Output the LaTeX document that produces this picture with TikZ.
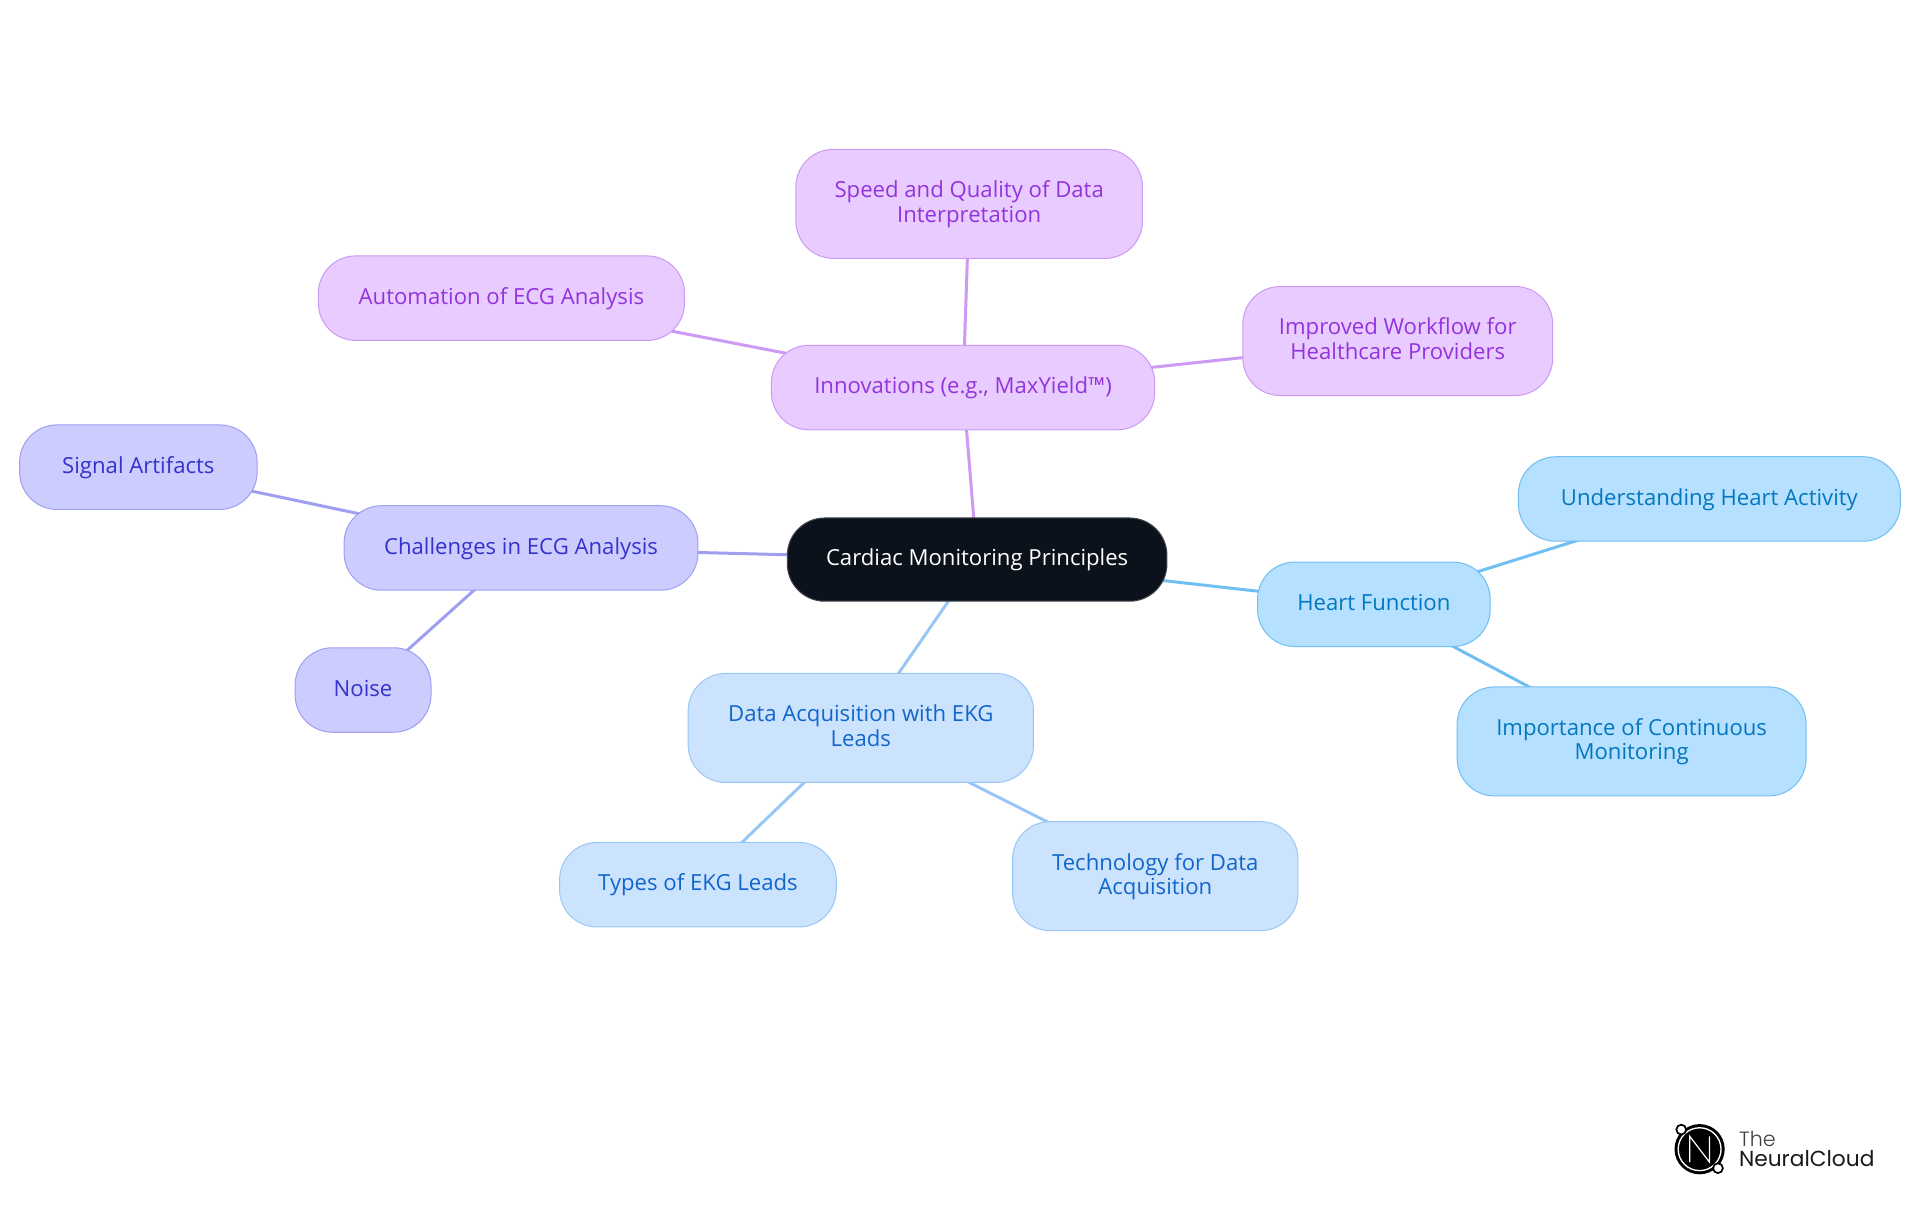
\documentclass[tikz,border=0pt]{standalone}
\usepackage{fontspec}
\setmainfont{Open Sans}
\newfontfamily\logofont{Poppins}
\newfontfamily\logolight{Poppins Light}
\usetikzlibrary{backgrounds}
\newcommand\st{\rule[-4.6pt]{0pt}{18.4pt}}
\definecolor{rootfill}{HTML}{0B121B}\definecolor{rootline}{HTML}{45494F}
\definecolor{purfill}{HTML}{E8CCFF}\definecolor{purline}{HTML}{CC99F5}\definecolor{purtext}{HTML}{9333DD}
\definecolor{indfill}{HTML}{CCCCFF}\definecolor{indline}{HTML}{9F9FF2}\definecolor{indtext}{HTML}{3333CC}
\definecolor{blufill}{HTML}{CCE3FD}\definecolor{bluline}{HTML}{99C7F5}\definecolor{blutext}{HTML}{1166CC}
\definecolor{skyfill}{HTML}{B5E0FF}\definecolor{skyline}{HTML}{70BFF2}\definecolor{skytext}{HTML}{0477BF}
\tikzset{
  x=0.91837pt,y=-0.91837pt,
  sz/.style 2 args={minimum width=#1*0.91837pt,minimum height=#2*0.91837pt},
  mm/.style={rectangle,rounded corners=28pt,inner sep=0pt,line width=0.75pt,align=center,
    font=\fontsize{16.6}{18.4}\selectfont},
  rootbox/.style={mm,draw=rootline,fill=rootfill,text=white},
  purbox/.style={mm,draw=purline,fill=purfill,text=purtext},
  indbox/.style={mm,draw=indline,fill=indfill,text=indtext},
  blubox/.style={mm,draw=bluline,fill=blufill,text=blutext},
  skybox/.style={mm,draw=skyline,fill=skyfill,text=skytext},
  link/.style={line width=2.25pt},
}
\begin{document}
\begin{tikzpicture}
\useasboundingbox (0,0) rectangle (1568,992.2);
\node[rootbox,sz={310}{68}] (root) at (798,457) {\st Cardiac Monitoring Principles};
\node[purbox,sz={313}{69}] (innov) at (786.5,316.5) {\st Innovations (e.g., MaxYield™)};
\node[purbox,sz={283}{89}] (speed) at (791.5,166.5) {\st Speed and Quality of Data\\Interpretation\st};
\node[purbox,sz={299}{69}] (auto) at (409.5,243.5) {\st Automation of ECG Analysis};
\node[purbox,sz={253}{89}] (workflow) at (1141.5,278.5) {\st Improved Workflow for\\Healthcare Providers\st};
\node[indbox,sz={289}{69}] (chall) at (425.5,447.5) {\st Challenges in ECG Analysis};
\node[indbox,sz={194}{69}] (signal) at (113,381.5) {\st Signal Artifacts};
\node[indbox,sz={111}{69}] (noise) at (296.5,563.5) {\st Noise};
\node[blubox,sz={282}{89}] (data) at (703,594.5) {\st Data Acquisition with EKG\\Leads\st};
\node[blubox,sz={226}{69}] (types) at (570,722.5) {\st Types of EKG Leads};
\node[blubox,sz={233}{89}] (tech) at (943.5,715.5) {\st Technology for Data\\Acquisition\st};
\node[skybox,sz={190}{69}] (heart) at (1122,493.5) {\st Heart Function};
\node[skybox,sz={312}{69}] (under) at (1396,407.5) {\st Understanding Heart Activity};
\node[skybox,sz={285}{89}] (import) at (1332.5,605.5) {\st Importance of Continuous\\Monitoring\st};
\begin{scope}[on background layer]
\draw[link,draw=purline] (root.center) -- (innov.center);
\draw[link,draw=purline] (innov.center) -- (speed.center);
\draw[link,draw=purline] (innov.center) -- (auto.center);
\draw[link,draw=purline] (innov.center) -- (workflow.center);
\draw[link,draw=indline] (root.center) -- (chall.center);
\draw[link,draw=indline] (chall.center) -- (signal.center);
\draw[link,draw=indline] (chall.center) -- (noise.center);
\draw[link,draw=bluline] (root.center) -- (data.center);
\draw[link,draw=bluline] (data.center) -- (types.center);
\draw[link,draw=bluline] (data.center) -- (tech.center);
\draw[link,draw=skyline] (root.center) -- (heart.center);
\draw[link,draw=skyline] (heart.center) -- (under.center);
\draw[link,draw=skyline] (heart.center) -- (import.center);
\end{scope}
% logo
\fill[black] (1388,938.5) circle (20.5);
\draw[white,line width=1pt] (1388,938.5) circle (17.5);
\draw[white,line width=0.9pt,line join=miter] (1380,949) -- (1380,928) -- (1396,949) -- (1396,928);
\draw[black,fill=white,line width=1.3pt] (1373,922.5) circle (4);
\draw[black,fill=white,line width=1.3pt] (1403,954) circle (4);
\node[anchor=base west,inner sep=0pt,text=black!75,font=\logolight\fontsize{15.5}{15.5}\selectfont] (the) at (1420,936) {The};
\node[anchor=base west,inner sep=0pt,text=black!90,font=\logofont\fontsize{16.3}{16.3}\selectfont] (nc) at (1420,953) {NeuralCloud};
\end{tikzpicture}
\end{document}
